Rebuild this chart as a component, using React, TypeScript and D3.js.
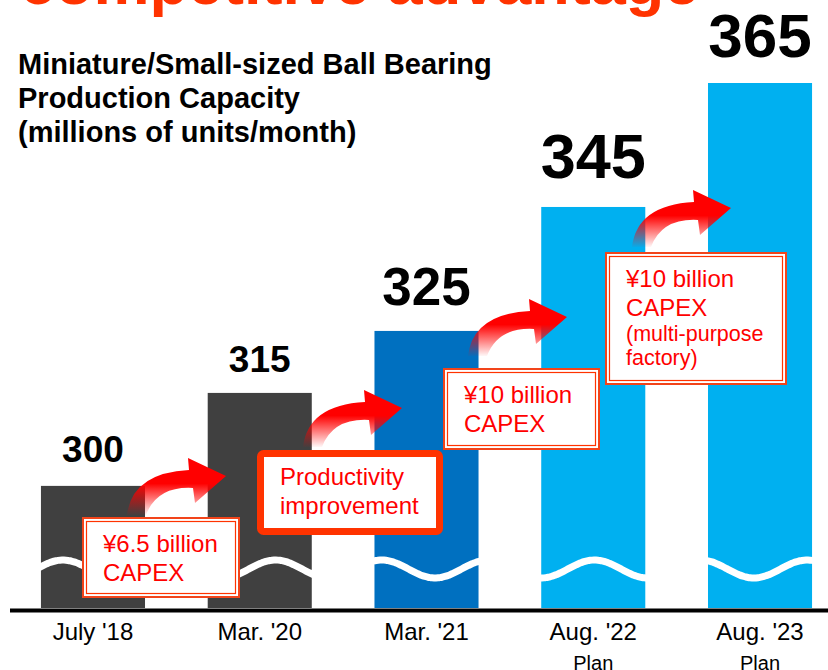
import React, { useEffect, useRef } from "react";
import * as d3 from "d3";

// Chart values
const periods = ["July '18", "Mar. '20", "Mar. '21", "Aug. '22", "Aug. '23"];
const periodNotes = ["", "", "", "Plan", "Plan"];
const capacity = [300, 315, 325, 345, 365];
const barColors = ["#404040", "#404040", "#0070C0", "#00B0F0", "#00B0F0"];
const titleLines = [
  "Miniature/Small-sized Ball Bearing",
  "Production Capacity",
  "(millions of units/month)",
];
const headline = "competitive advantage";
const stepNotes = [
  ["¥6.5 billion", "CAPEX"],
  ["Productivity", "improvement"],
  ["¥10 billion", "CAPEX"],
  ["¥10 billion", "CAPEX", "(multi-purpose", "factory)"],
];

// Layout / styling
const W = 828;
const H = 670;
const FONT = "'Liberation Sans', Arial, sans-serif";
const labelStyle = [
  { size: 37, gap: 24 },
  { size: 37, gap: 21 },
  { size: 53, gap: 26 },
  { size: 63, gap: 29 },
  { size: 62, gap: 26 },
];
const noteBoxes = [
  { x: 82, y: 517, w: 158, h: 81, kind: "double" },
  { x: 257, y: 450, w: 186, h: 85, kind: "thick" },
  { x: 443, y: 368, w: 157, h: 82, kind: "double" },
  { x: 605, y: 252, w: 182, h: 133, kind: "double" },
];
const arrowTails = [
  { x: 127, y: 515 },
  { x: 303, y: 447 },
  { x: 468, y: 356 },
  { x: 632, y: 247 },
];

export default function App() {
  const ref = useRef<SVGSVGElement | null>(null);

  useEffect(() => {
    const svg = d3.select(ref.current);
    svg.selectAll("*").remove();

    const baseY = 608;

    // X scale (bands for the five periods)
    const x = d3
      .scaleBand()
      .domain(periods)
      .range([9.6, 843.4])
      .paddingInner(0.376)
      .paddingOuter(0.188);

    // Y scale - the axis is broken, so the domain starts above zero
    const y = d3.scaleLinear().domain([280.3, 365]).range([baseY, 83]);

    // gradient for the curved arrows
    const defs = svg.append("defs");
    const grad = defs
      .append("linearGradient")
      .attr("id", "arrowGrad")
      .attr("x1", 0)
      .attr("y1", 0)
      .attr("x2", 0)
      .attr("y2", 1);
    grad.append("stop").attr("offset", 0).attr("stop-color", "#FF0000").attr("stop-opacity", 1);
    grad.append("stop").attr("offset", 0.45).attr("stop-color", "#FF0000").attr("stop-opacity", 1);
    grad.append("stop").attr("offset", 1).attr("stop-color", "#FF0000").attr("stop-opacity", 0.03);

    // headline (cut off at the top)
    svg
      .append("text")
      .attr("x", 20)
      .attr("y", 4)
      .style("font-family", FONT)
      .style("font-weight", "bold")
      .style("font-size", "63px")
      .style("fill", "#FF3300")
      .text(headline);

    // chart title
    svg
      .append("g")
      .selectAll("text")
      .data(titleLines)
      .join("text")
      .attr("x", 18)
      .attr("y", (d, i) => 74 + i * 34)
      .style("font-family", FONT)
      .style("font-weight", "bold")
      .style("font-size", "29px")
      .style("fill", "#000")
      .text(d => d);

    // bars
    svg
      .append("g")
      .selectAll("rect")
      .data(capacity)
      .join("rect")
      .attr("x", (d, i) => x(periods[i]) as number)
      .attr("y", d => y(d))
      .attr("width", x.bandwidth())
      .attr("height", d => baseY - y(d))
      .style("fill", (d, i) => barColors[i]);

    // wavy break line across the bars
    const wave = d3
      .line<number>()
      .x(d => d)
      .y(d => 569 + 9 * Math.cos((2 * Math.PI * (d - 435)) / 106.3))
      .curve(d3.curveBasis);
    svg
      .append("path")
      .attr("d", wave(d3.range(0, W + 2, 2)))
      .style("fill", "none")
      .style("stroke", "#fff")
      .style("stroke-width", 7);

    // value labels
    svg
      .append("g")
      .selectAll("text")
      .data(capacity)
      .join("text")
      .attr("x", (d, i) => (x(periods[i]) as number) + x.bandwidth() / 2)
      .attr("y", (d, i) => y(d) - labelStyle[i].gap)
      .attr("text-anchor", "middle")
      .style("font-family", FONT)
      .style("font-weight", "bold")
      .style("font-size", (d, i) => labelStyle[i].size + "px")
      .style("fill", "#000")
      .text(d => d);

    // curved arrows
    const arrowPath =
      "M0,0 Q5,-42 62,-45 L61,-57 L99,-39 L68,-12 L66,-27 Q30,-29 19,0 Z";
    svg
      .append("g")
      .selectAll("path")
      .data(arrowTails)
      .join("path")
      .attr("transform", d => `translate(${d.x},${d.y})`)
      .attr("d", arrowPath)
      .style("fill", "url(#arrowGrad)");

    // annotation boxes
    const boxes = svg
      .append("g")
      .selectAll("g")
      .data(noteBoxes)
      .join("g")
      .attr("transform", d => `translate(${d.x},${d.y})`);

    boxes.each(function (b, i) {
      const g = d3.select(this);
      if (b.kind === "thick") {
        g.append("rect")
          .attr("x", 3.5)
          .attr("y", 3.5)
          .attr("width", b.w - 7)
          .attr("height", b.h - 7)
          .attr("rx", 3)
          .style("fill", "#fff")
          .style("stroke", "#FF3300")
          .style("stroke-width", 7);
      } else {
        g.append("rect")
          .attr("x", 1)
          .attr("y", 1)
          .attr("width", b.w - 2)
          .attr("height", b.h - 2)
          .style("fill", "#fff")
          .style("stroke", "#F2441A")
          .style("stroke-width", 2);
        g.append("rect")
          .attr("x", 4.5)
          .attr("y", 4.5)
          .attr("width", b.w - 9)
          .attr("height", b.h - 9)
          .style("fill", "none")
          .style("stroke", "#FF3300")
          .style("stroke-width", 1.2);
      }
      const lines = stepNotes[i];
      g.selectAll("text")
        .data(lines)
        .join("text")
        .attr("x", b.kind === "thick" ? 23 : 21)
        .attr("y", (d, j) => (j < 2 ? 35 + j * 29 : 35 + 29 + (j - 1) * 24.5))
        .style("font-family", FONT)
        .style("font-size", (d, j) => (j < 2 ? "24px" : "21.5px"))
        .style("fill", "#FF0000")
        .text(d => d);
    });

    // axis line
    svg
      .append("rect")
      .attr("x", 10)
      .attr("y", 608.5)
      .attr("width", W - 10)
      .attr("height", 4)
      .style("fill", "#000");

    // x labels
    const xl = svg
      .append("g")
      .selectAll("g")
      .data(periods)
      .join("g")
      .attr("transform", d => `translate(${(x(d) as number) + x.bandwidth() / 2},0)`);
    xl.append("text")
      .attr("y", 640)
      .attr("text-anchor", "middle")
      .style("font-family", FONT)
      .style("font-size", "24px")
      .style("fill", "#000")
      .text(d => d);
    xl.append("text")
      .attr("y", 670)
      .attr("text-anchor", "middle")
      .style("font-family", FONT)
      .style("font-size", "20px")
      .style("fill", "#000")
      .text((d, i) => periodNotes[i]);
  }, []);

  return (
    <div style={{ position: "absolute", left: 0, top: 0 }}>
      <svg ref={ref} width={W} height={H} style={{ display: "block", background: "#fff" }} />
    </div>
  );
}
